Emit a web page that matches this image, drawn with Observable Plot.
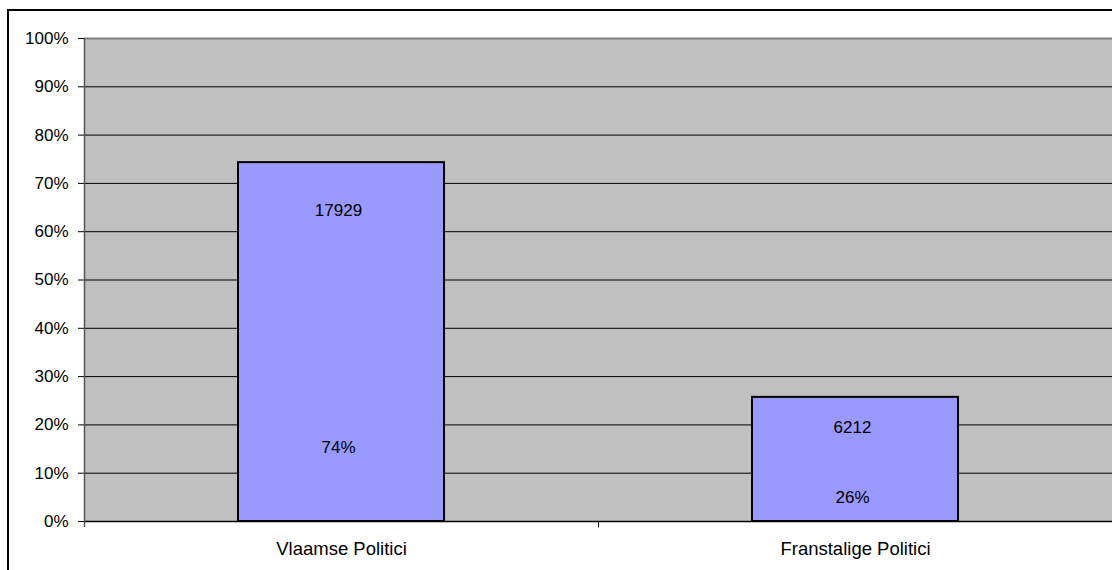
<!DOCTYPE html>
<html>
<head>
<meta charset="utf-8">
<script src="https://cdn.jsdelivr.net/npm/d3@7"></script>
<script src="https://cdn.jsdelivr.net/npm/@observablehq/plot@0.6"></script>
<style>
  html, body { margin: 0; padding: 0; background: #fff; overflow: hidden; }
  #wrap { position: relative; width: 1112px; height: 570px; }
  #frame { position: absolute; left: 7px; top: 9px; width: 1200px; height: 700px;
           border-left: 2px solid #000; border-top: 2px solid #000; box-sizing: border-box; pointer-events: none; }
  #chart { position: absolute; left: 0; top: 0; }
  svg { font-family: "Liberation Sans", Arial, sans-serif; }
</style>
</head>
<body>
<div id="wrap"><div id="chart"></div><div id="frame"></div></div>
<script>
const categories = ["Vlaamse Politici", "Franstalige Politici"];
const counts = [17929, 6212];
const percents = [74.3, 25.7];
const percentLabels = ["74%", "26%"];
const yTicks = [0, 10, 20, 30, 40, 50, 60, 70, 80, 90, 100];

const data = categories.map((c, i) => ({cat: c, count: counts[i], pct: percents[i], pctLabel: percentLabels[i]}));

// layout offsets (pixels) for the labels inside each bar
const valueDy = [48, 30];
const pctDy = [-74, -24];
const FS = 17;

const labelMarks = [];
data.forEach((d, i) => {
  labelMarks.push(Plot.text([d], {x: "cat", y: "pct", text: dd => String(dd.count), dy: valueDy[i], dx: -3, fontSize: FS, fill: "#000"}));
  labelMarks.push(Plot.text([d], {x: "cat", y: 0, text: "pctLabel", dy: pctDy[i], dx: -3, fontSize: FS, fill: "#000"}));
});

const chart = Plot.plot({
  width: 1112,
  height: 570,
  marginTop: 38,
  marginBottom: 49,
  marginLeft: 84,
  marginRight: 0,
  style: {fontFamily: "Liberation Sans, Arial, sans-serif", fontSize: FS + "px", color: "#000", background: "transparent"},
  x: {domain: categories, paddingInner: 0.6, paddingOuter: 0.3, label: null},
  y: {domain: [0, 100], label: null},
  marks: [
    Plot.frame({fill: "#C0C0C0", stroke: null}),
    Plot.ruleY(yTicks.filter(t => t > 0 && t < 100), {stroke: "#000", strokeWidth: 1}),
    Plot.ruleY([100], {stroke: "#808080", strokeWidth: 2}),
    Plot.barY(data, {x: "cat", y: "pct", fill: "#9999FF", stroke: "#000", strokeWidth: 2}),
    Plot.axisY({ticks: yTicks, tickFormat: d => d + "%", tickSize: 6, tickPadding: 10, fontSize: FS, stroke: "#000"}),
    Plot.axisX({tickSize: 0, tickPadding: 20, fontSize: 18.5}),
    Plot.ruleY([0], {stroke: "#000", strokeWidth: 1.5}),
    Plot.ruleX([categories[0]], {x: d => d, y1: 0, y2: -1.3, dx: 257, stroke: "#000"}),
    ...labelMarks
  ]
});

// left axis line of plot area
const svg = d3.select(chart);
svg.append("line").attr("x1", 84.5).attr("x2", 84.5).attr("y1", 38).attr("y2", 527)
  .attr("stroke", "#555").attr("stroke-width", 1.5);

document.getElementById("chart").appendChild(chart);
</script>
</body>
</html>
